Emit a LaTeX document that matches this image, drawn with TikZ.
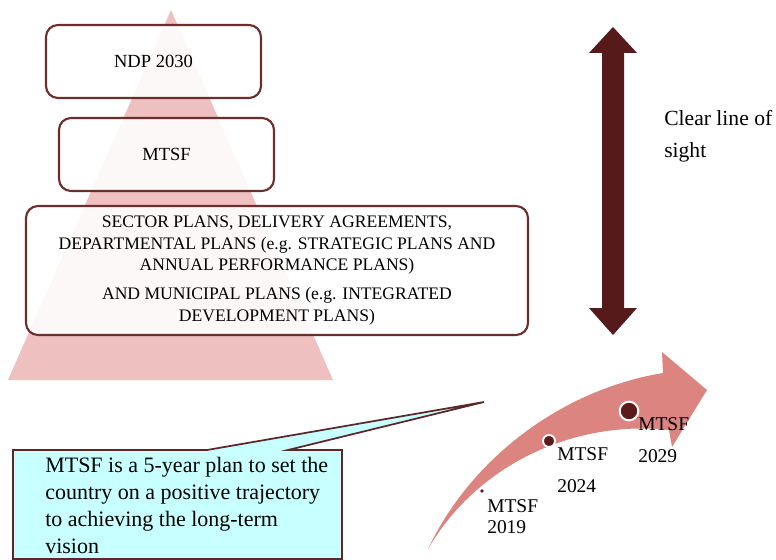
\documentclass[tikz,border=0pt]{standalone}
\usepackage{fontspec}
\setmainfont{Liberation Serif}
\definecolor{tripink}{RGB}{239,192,192}
\definecolor{boxline}{RGB}{110,45,45}
\definecolor{darkarrow}{RGB}{86,26,26}
\definecolor{curvepink}{RGB}{220,132,127}
\definecolor{dotbrown}{RGB}{92,26,26}
\definecolor{calloutfill}{RGB}{200,255,255}
\definecolor{calloutline}{RGB}{90,40,40}
\tikzset{
  planbox/.style={draw=boxline, line width=1.6pt, rounded corners=9pt, fill=white, fill opacity=0.9, text opacity=1, align=center, inner sep=2pt},
  boxfont/.style={font=\fontsize{13.9}{16}\selectfont},
  bigfont/.style={font=\fontsize{13.2}{16.1}\selectfont},
  tllabel/.style={anchor=north west, inner sep=0pt, align=left, text=black},
  dotmark/.style={circle, fill=dotbrown, draw=white, inner sep=0pt}
}
\begin{document}
\begin{tikzpicture}[x=0.75pt,y=-0.75pt]
\useasboundingbox (0,0) rectangle (776,560);
% pyramid
\fill[tripink] (171,10) -- (333,380) -- (8,380) -- cycle;
% plan boxes
\node[planbox, boxfont, minimum width=161.25pt, minimum height=54.75pt] (ndp) at (153.5,61.5) {NDP 2030};
\node[planbox, boxfont, minimum width=161.25pt, minimum height=54.75pt] (mtsf) at (166.5,154.5) {MTSF};
\node[planbox, bigfont, minimum width=376.5pt, minimum height=96.75pt] (plans) at (277,270.5)
  {SECTOR PLANS, DELIVERY AGREEMENTS,\\
   DEPARTMENTAL PLANS (e.g. STRATEGIC PLANS AND\\
   ANNUAL PERFORMANCE PLANS)\\[5.6pt]
   AND MUNICIPAL PLANS (e.g. INTEGRATED\\
   DEVELOPMENT PLANS)};
% double arrow (line of sight)
\fill[darkarrow] (613,27) -- (637,53) -- (624,53) -- (624,308) -- (637,308) -- (613,335)
  -- (589,308) -- (602,308) -- (602,53) -- (589,53) -- cycle;
\node[tllabel, font=\fontsize{16.2}{24}\selectfont] (sight) at (664,110) {Clear line of\\sight};
% curved timeline arrow
\fill[curvepink] (428,549) .. controls (470,460) and (560,390) .. (663,373)
  -- (662,352) -- (707,390) -- (672,447) -- (669,430)
  .. controls (580,420) and (480,460) .. (428,549) -- cycle;
\node[dotmark, draw=none, minimum size=2.7pt] (d2019) at (482,491) {};
\node[dotmark, line width=1.4pt, minimum size=9pt] (d2024) at (549,441) {};
\node[dotmark, line width=1.5pt, minimum size=14pt] (d2029) at (629,411) {};
\node[tllabel, font=\fontsize{14.6}{15.75}\selectfont] (l2019) at (487,499) {MTSF\\2019};
\node[tllabel, font=\fontsize{14.6}{24}\selectfont] (l2024) at (557,447) {MTSF\\2024};
\node[tllabel, font=\fontsize{14.6}{24}\selectfont] (l2029) at (638,417) {MTSF\\2029};
% callout
\coordinate (tip) at (484,402);
\filldraw[fill=calloutfill, draw=calloutline, line width=1.3pt, line join=miter]
  (13,450) -- (207,450) -- (tip) -- (288,450) -- (342,450) -- (342,559) -- (13,559) -- cycle;
\node[tllabel, font=\fontsize{16.5}{20.25}\selectfont] (note) at (45,457)
  {MTSF is a 5-year plan to set the\\
   country on a positive trajectory\\
   to achieving the long-term\\
   vision};
\end{tikzpicture}
\end{document}
